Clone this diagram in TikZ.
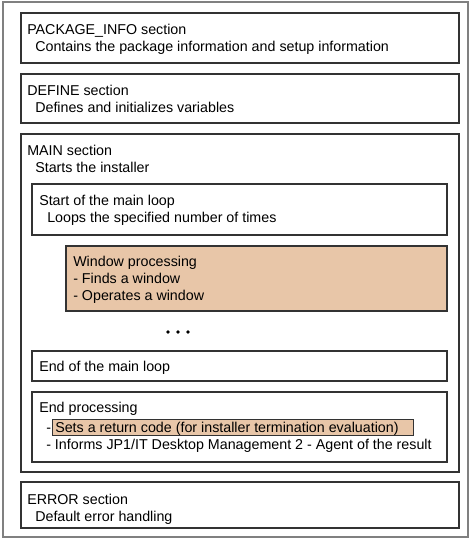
\documentclass[tikz,border=0pt]{standalone}
\usepackage{fontspec}
\setmainfont{Liberation Sans}
\usepackage{tikz}
\definecolor{tanfill}{RGB}{232,198,168}

\begin{document}
\begin{tikzpicture}[x=0.75pt, y=-0.75pt,
  outer/.style={draw=black!50, line width=1.4pt},
  sect/.style={draw=black!80, line width=0.9pt},
  hl/.style={fill=tanfill},
  ttl/.style={anchor=base west, inner sep=0pt, font=\fontsize{10.7}{12.75}\selectfont}
]
\useasboundingbox (0,0) rectangle (473,541);
\draw[outer] (3,2) rectangle (468,537);

% PACKAGE_INFO / DEFINE
\draw[sect] (21,13) rectangle (459,63);
\node[ttl] (pkgA) at (27,35) {PACKAGE\_INFO section};
\node[ttl] (pkgB) at (35,52) {Contains the package information and setup information};
\draw[sect] (21,74) rectangle (459,123);
\node[ttl] (defA) at (27,96) {DEFINE section};
\node[ttl] (defB) at (35,113) {Defines and initializes variables};

% MAIN
\draw[sect] (21,134) rectangle (459,472);
\node[ttl] (mainA) at (27,156) {MAIN section};
\node[ttl] (mainB) at (35,173) {Starts the installer};

\draw[sect] (32,184) rectangle (447,235);
\node[ttl] (loopA) at (39,206) {Start of the main loop};
\node[ttl] (loopB) at (47,223) {Loops the specified number of times};

\draw[sect, hl] (66,246) rectangle (447,311);
\node[ttl] (winA) at (73,266) {Window processing};
\node[ttl] (winB) at (73,283) {- Finds a window};
\node[ttl] (winC) at (73,300) {- Operates a window};

\foreach \x in {168,178,188} \fill (\x,332) circle (1.9);

\draw[sect] (32,351) rectangle (447,381);
\node[ttl] (endA) at (39,371) {End of the main loop};

\draw[sect] (32,392) rectangle (447,462);
\node[ttl] (procA) at (39,412) {End processing};
\draw[draw=black!80, line width=0.6pt, hl] (52,419) rectangle (413,435);
\node[ttl] (procD) at (46,432) {-};
\node[ttl] (procB) at (55,432) {Sets a return code (for installer termination evaluation)};
\node[ttl] (procC) at (46,449) {- Informs JP1/IT Desktop Management 2 - Agent of the result};

% ERROR
\draw[sect] (21,482) rectangle (459,528);
\node[ttl] (errA) at (27,504) {ERROR section};
\node[ttl] (errB) at (35,521) {Default error handling};
\end{tikzpicture}
\end{document}
